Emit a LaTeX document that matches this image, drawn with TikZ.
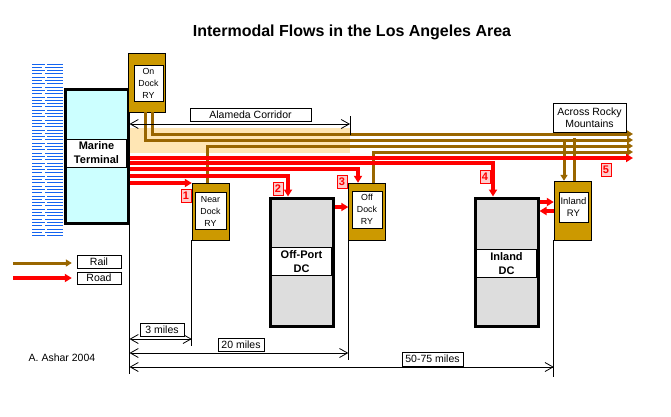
\documentclass[tikz,border=0pt]{standalone}
\usepackage{fontspec}
\setmainfont{Liberation Sans}
\usetikzlibrary{arrows.meta}
\definecolor{railbrown}{RGB}{153,102,0}
\definecolor{yardgold}{RGB}{204,153,0}
\definecolor{termcyan}{RGB}{204,255,255}
\definecolor{dcgray}{RGB}{221,221,221}
\definecolor{corridor}{RGB}{255,230,180}
\definecolor{waterblue}{RGB}{20,100,240}
\definecolor{tagpink}{RGB}{255,204,204}
\begin{document}
\begin{tikzpicture}[x=1pt,y=-1pt,
    every node/.style={inner sep=0pt},
    yard/.style={draw,fill=yardgold,minimum width=37pt,minimum height=57pt},
    yardtext/.style={draw,fill=white,align=center,font=\fontsize{8.8}{12}\selectfont},
    depot/.style={draw,line width=3pt,fill=dcgray,minimum width=63pt,minimum height=128pt},
    band/.style={draw,fill=white,minimum width=60pt,minimum height=28pt,align=center,font=\fontsize{11}{14}\selectfont\bfseries},
    rail/.style={draw=railbrown,line width=3pt},
    road/.style={draw=red,line width=3.3pt},
    railtip/.style={-{Triangle[length=6pt,width=7pt]}},
    roadtip/.style={-{Triangle[length=7pt,width=8pt]}},
    caption/.style={draw,fill=white,font=\fontsize{10.5}{12}\selectfont},
    flownum/.style={draw=red,fill=tagpink,text=red,font=\fontsize{11}{11}\selectfont\bfseries,minimum width=10pt,minimum height=13pt},
    dim/.style={line width=0.8pt,{Straight Barb[length=8pt,width=9pt]}-{Straight Barb[length=8pt,width=9pt]}}
  ]
  \useasboundingbox (0,0) rectangle (671,416);

  \node[font=\fontsize{16}{18}\selectfont\bfseries] (title) at (352,32) {Intermodal Flows in the Los Angeles Area};

  \foreach \y in {64,70.6,...,237} {
    \draw[waterblue,line width=1pt] (32,\y) -- (45,\y) (47,\y) -- (63,\y);
  }
  \foreach \y in {67.3,73.9,...,237} {
    \draw[waterblue,line width=1pt] (32,\y) -- (42,\y) (45,\y) -- (63,\y);
  }

  \fill[corridor] (128,128) rectangle (350,153);

  \node[draw,line width=3pt,fill=termcyan,minimum width=63pt,minimum height=134pt] (terminal) at (96.5,156) {};
  \node[band] (terminaltext) at (96.5,153) {Marine\\Terminal};

  \node[yard,minimum height=59pt] (ondock) at (146.5,82.5) {};
  \node[yardtext,minimum width=29pt,minimum height=36pt] (ondocktext) at (148.5,83) {On\\Dock\\RY};
  \node[yard] (neardock) at (210.5,211.5) {};
  \node[yardtext,minimum width=31pt,minimum height=37pt] (neardocktext) at (210.5,211) {Near\\Dock\\RY};
  \node[yard] (offdock) at (367,211.5) {};
  \node[yardtext,minimum width=30pt,minimum height=37pt] (offdocktext) at (367,209.5) {Off\\Dock\\RY};
  \node[yard,minimum height=59pt] (inlandry) at (572.5,210.5) {};
  \node[yardtext,minimum width=29pt,minimum height=30pt,font=\fontsize{9.5}{12}\selectfont] (inlandrytext) at (573.5,207) {Inland\\RY};

  \node[depot] (offport) at (301.5,262) {};
  \node[band] (offporttext) at (301.5,261.5) {Off-Port\\DC};
  \node[depot] (inlanddc) at (506.5,262) {};
  \node[band] (inlanddctext) at (506.5,263.5) {Inland\\DC};

  \coordinate (rockies1) at (633,134);
  \coordinate (rockies2) at (633,140);
  \coordinate (rockies3) at (633,146);
  \coordinate (rockies4) at (633,152);
  \coordinate (rockies5) at (633,158);
  \coordinate (split) at (564,140);

  \draw[rail,railtip] ([xshift=5.5pt]ondock.south) |- (rockies1);
  \draw[rail,railtip] ([xshift=-1.5pt]ondock.south) |- (rockies2);
  \draw[rail,railtip] ([xshift=-3.5pt]neardock.north) |- (rockies3);
  \draw[rail,railtip] ([xshift=6pt]offdock.north) |- (rockies4);
  \draw[rail,railtip] (split) -- (split |- inlandry.north);
  \draw[rail] ([xshift=1.5pt]inlandry.north) -- ++(0,-43);

  \draw[road,roadtip] (terminal.east |- rockies5) -- (rockies5);
  \draw[road,roadtip] (terminal.east |- 0,163) -| ([xshift=-13.5pt]inlanddc.north);
  \draw[road,roadtip] (terminal.east |- 0,169) -| ([xshift=-9pt]offdock.north);
  \draw[road,roadtip] (terminal.east |- 0,176) -| ([xshift=-13.5pt]offport.north);
  \draw[road,roadtip] (terminal.east |- 0,183) -- (neardock.west |- 0,183);
  \draw[road,roadtip] (offport.east |- 0,207) -- (offdock.west |- 0,207);
  \draw[road,roadtip] (inlanddc.east |- 0,202) -- (inlandry.west |- 0,202);
  \draw[road,roadtip] (inlandry.west |- 0,211) -- (inlanddc.east |- 0,211);

  \node[flownum] (flow1) at (186,196) {1};
  \node[flownum] (flow2) at (278,189) {2};
  \node[flownum] (flow3) at (342,182) {3};
  \node[flownum] (flow4) at (485,177) {4};
  \node[flownum] (flow5) at (606,170) {5};

  \node[caption,minimum width=73pt,minimum height=29pt,align=center] (rockies) at (589.5,117.5) {Across Rocky\\Mountains};

  \coordinate (corridorend) at (350,124);
  \node[caption,minimum width=121pt,minimum height=13pt] (corridortext) at (250.5,114.5) {Alameda Corridor};
  \draw[dim] (terminal.east |- corridorend) -- (corridorend);
  \draw[line width=0.8pt] ([yshift=-11pt]corridorend) -- ([yshift=8pt]corridorend);

  \draw[line width=0.8pt] (terminal.south east) -- ++(0,149);
  \draw[line width=0.8pt] (neardock.south west) -- ++(0,106);
  \draw[line width=0.8pt] (offdock.south west) -- ++(0,120);
  \draw[line width=0.8pt] (inlandry.south west) -- ++(0,137);

  \draw[dim] (terminal.east |- 0,339) -- (neardock.west |- 0,339);
  \draw[dim] (terminal.east |- 0,353) -- (offdock.west |- 0,353);
  \draw[dim] (terminal.east |- 0,367) -- (inlandry.west |- 0,367);
  \node[caption,minimum width=44pt,minimum height=13pt] (threemiles) at (162,329.5) {3 miles};
  \node[caption,minimum width=46pt,minimum height=13pt] (twentymiles) at (241,344.5) {20 miles};
  \node[caption,minimum width=61pt,minimum height=14pt] (fiftymiles) at (432.5,359) {50-75 miles};

  \coordinate (railstart) at (13,263);
  \coordinate (roadstart) at (13,278);
  \node[caption,minimum width=44pt,minimum height=13pt] (railkey) at (99,261.5) {Rail};
  \node[caption,minimum width=44pt,minimum height=12pt] (roadkey) at (99,278) {Road};
  \draw[rail,railtip,shorten >=5pt] (railstart) -- (railstart -| railkey.west);
  \draw[road,roadtip,shorten >=5pt] (roadstart) -- (roadkey.west);

  \node[font=\fontsize{10.5}{12}\selectfont] (author) at (62,358) {A. Ashar 2004};
\end{tikzpicture}
\end{document}
